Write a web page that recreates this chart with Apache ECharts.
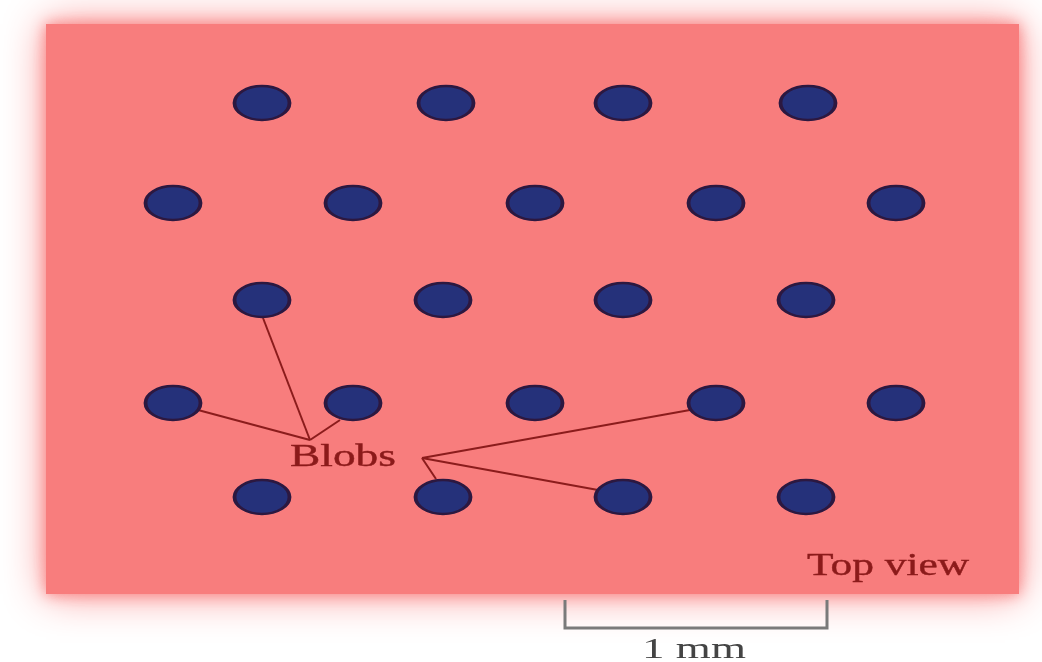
<!DOCTYPE html>
<html>
<head>
<meta charset="utf-8">
<script src="https://cdn.jsdelivr.net/npm/echarts@6/dist/echarts.min.js"></script>
<style>
  html, body { margin: 0; padding: 0; background: #fff; }
  #chart { width: 1042px; height: 662px; }
</style>
</head>
<body>
<div id="chart"></div>
<script>
// blob centres (x, y in picture units)
const rowY = [103, 203, 300, 403, 497];
const blobsByRow = [
  [262, 446, 623, 808],
  [173, 353, 535, 716, 896],
  [262, 443, 623, 806],
  [173, 353, 535, 716, 896],
  [262, 443, 623, 806]
];

// leader lines from the "Blobs" label
const leaderLines = [
  [[310, 440], [198, 410]],
  [[310, 440], [263, 318]],
  [[310, 440], [340, 420]],
  [[422, 458], [690, 410]],
  [[422, 458], [598, 490]],
  [[422, 458], [436, 479]]
];

// scale bar
const scaleBar = [[565, 600], [565, 628], [827, 628], [827, 600]];

const blobData = [];
blobsByRow.forEach((xs, i) => {
  xs.forEach(x => blobData.push([x, rowY[i]]));
});

const chart = echarts.init(document.getElementById('chart'));

const textStyle = (text, fill, size, weight) => ({
  text: text,
  fill: fill,
  font: size + 'px "Liberation Serif"',
  textAlign: 'center',
  textVerticalAlign: 'middle',
  stroke: fill,
  lineWidth: weight
});

const plate = { x: 46, y: 24, width: 973, height: 570 };

const option = {
  animation: false,
  grid: { left: 0, right: 0, top: 0, bottom: 0 },
  xAxis: { type: 'value', min: 0, max: 1042, show: false },
  yAxis: { type: 'value', min: 0, max: 662, inverse: true, show: false },
  graphic: [
    // wide soft glow
    {
      type: 'rect',
      z: -20,
      shape: plate,
      style: {
        fill: '#f98a8a',
        shadowBlur: 40,
        shadowColor: 'rgba(248,140,140,1)'
      }
    },
    // solid pink plate with short fade
    {
      type: 'rect',
      z: -10,
      shape: plate,
      style: {
        fill: '#f87d7d',
        shadowBlur: 14,
        shadowColor: 'rgba(248,130,130,1)'
      }
    },
    {
      type: 'text',
      x: 343, y: 458, scaleX: 1.42,
      z: 10,
      style: textStyle('Blobs', '#8b1a1a', 32, 0.4)
    },
    {
      type: 'text',
      x: 888, y: 567, scaleX: 1.4,
      z: 10,
      style: textStyle('Top view', '#8b1a1a', 31, 0.4)
    },
    {
      type: 'text',
      x: 694, y: 650, scaleX: 1.5,
      z: 10,
      style: textStyle('1 mm', '#444', 30, 0)
    }
  ],
  series: [
    {
      name: 'leaders',
      type: 'lines',
      coordinateSystem: 'cartesian2d',
      data: leaderLines.map(c => ({ coords: c })),
      lineStyle: { color: '#8b1c1c', width: 2, opacity: 1 },
      z: 2
    },
    {
      name: 'scale',
      type: 'lines',
      coordinateSystem: 'cartesian2d',
      polyline: true,
      data: [{ coords: scaleBar }],
      lineStyle: { color: '#7a7a7a', width: 3, opacity: 1 },
      z: 2
    },
    {
      name: 'blobs',
      type: 'scatter',
      data: blobData,
      symbol: 'circle',
      symbolSize: [55, 34],
      itemStyle: {
        color: '#25317a',
        borderColor: '#2c1840',
        borderWidth: 3,
        opacity: 1
      },
      z: 3
    }
  ]
};

chart.setOption(option);
</script>
</body>
</html>
